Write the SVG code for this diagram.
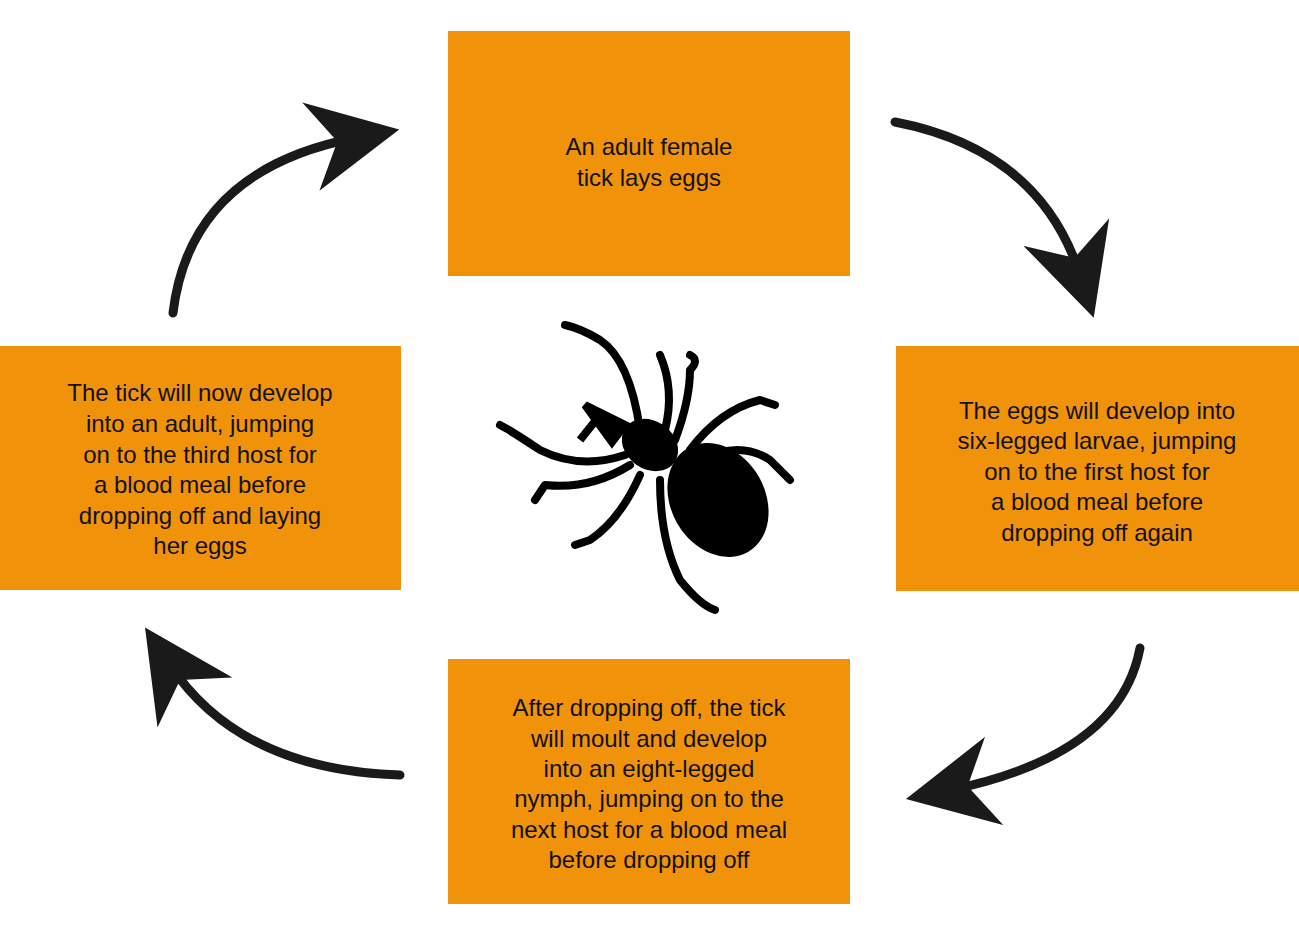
<svg xmlns="http://www.w3.org/2000/svg" width="1299" height="947" viewBox="0 0 1299 947">
<style>
.box{fill:#F0920A}
.t{font-family:"Liberation Sans",Arial,sans-serif;font-size:24px;fill:#111;text-anchor:middle}
.arc{fill:none;stroke:#1a1a1a;stroke-width:9;stroke-linecap:round}
.leg{fill:none;stroke:#000;stroke-width:8;stroke-linecap:round;stroke-linejoin:round}
</style>
<defs>
<marker id="ah" viewBox="0 0 10 10" refX="5" refY="5" markerWidth="8" markerHeight="8" markerUnits="userSpaceOnUse" orient="auto"><path d="M0,0 L10,5 L0,10 L3,5 Z" fill="#1a1a1a"/></marker>
<marker id="ah2" viewBox="0 0 10 10" refX="5" refY="5" markerWidth="10" markerHeight="10" orient="auto"><path d="M0,0 L10,5 L0,10 L3,5 Z" fill="#1a1a1a"/></marker>
</defs>
<g id="node-top"><rect class="box" x="448" y="31" width="402" height="245"/>
<text class="t" x="649" y="155">An adult female</text><text class="t" x="649" y="186">tick lays eggs</text></g>
<g id="node-right"><rect class="box" x="896" y="346" width="403" height="245"/>
<text class="t" x="1097" y="419">The eggs will develop into</text><text class="t" x="1097" y="449">six-legged larvae, jumping</text><text class="t" x="1097" y="480">on to the first host for</text><text class="t" x="1097" y="510">a blood meal before</text><text class="t" x="1097" y="541">dropping off again</text></g>
<g id="node-bottom"><rect class="box" x="448" y="659" width="402" height="245"/>
<text class="t" x="649" y="716">After dropping off, the tick</text><text class="t" x="649" y="747">will moult and develop</text><text class="t" x="649" y="777">into an eight-legged</text><text class="t" x="649" y="807">nymph, jumping on to the</text><text class="t" x="649" y="838">next host for a blood meal</text><text class="t" x="649" y="868">before dropping off</text></g>
<g id="node-left"><rect class="box" x="0" y="346" width="401" height="244"/>
<text class="t" x="200" y="401">The tick will now develop</text><text class="t" x="200" y="432">into an adult, jumping</text><text class="t" x="200" y="463">on to the third host for</text><text class="t" x="200" y="493">a blood meal before</text><text class="t" x="200" y="524">dropping off and laying</text><text class="t" x="200" y="554">her eggs</text></g>
<g id="connectors">
<path class="arc" d="M895,122 Q1040,150 1080,275" marker-end="url(#ah2)"/>
<path class="arc" d="M1140,648 Q1120,755 950,790" marker-end="url(#ah2)"/>
<path class="arc" d="M400,775 Q240,770 170,665" marker-end="url(#ah2)"/>
<path class="arc" d="M173,313 Q190,170 355,138" marker-end="url(#ah2)"/>
</g>
<g id="tick">
<ellipse cx="718" cy="500" rx="47" ry="60" transform="rotate(-30 718 500)" fill="#000"/>
<ellipse cx="650" cy="445" rx="30" ry="24" transform="rotate(35 650 445)" fill="#000"/>
<path d="M585,405 L625,425 L612,442 Z M600,415 L580,440" fill="#000" stroke="#000" stroke-width="8"/>
<path class="leg" d="M640,430 Q630,360 600,340 Q580,328 565,325"/>
<path class="leg" d="M665,430 Q675,390 660,355"/>
<path class="leg" d="M675,440 Q690,400 690,370 Q700,360 690,355"/>
<path class="leg" d="M690,450 Q720,410 760,400 L775,405"/>
<path class="leg" d="M700,460 Q740,440 770,460 L790,480"/>
<path class="leg" d="M625,455 Q580,470 540,450 Q510,430 500,425"/>
<path class="leg" d="M630,465 Q590,490 545,485 L535,500"/>
<path class="leg" d="M640,475 Q620,520 590,540 L575,545"/>
<path class="leg" d="M660,480 Q660,540 680,580 Q700,605 715,610"/>
</g>
</svg>
